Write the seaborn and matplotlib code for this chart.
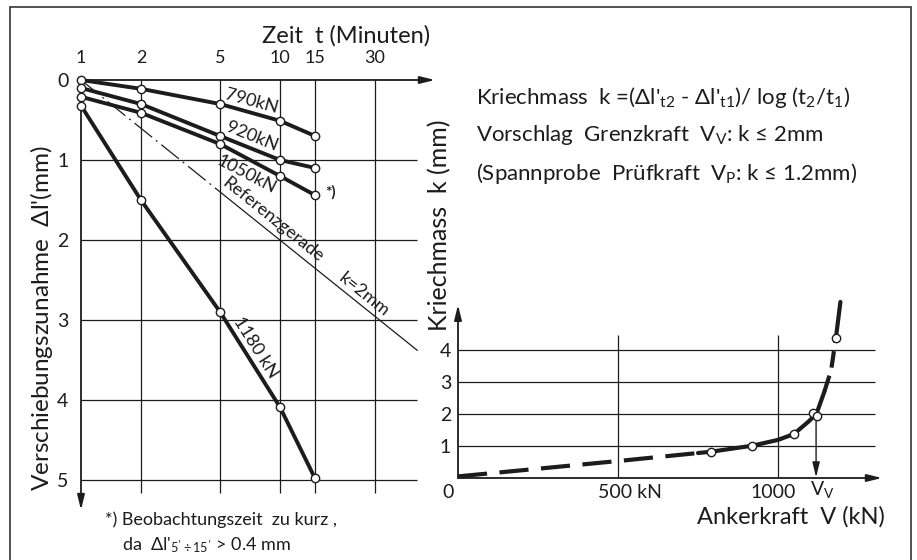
import matplotlib
matplotlib.use("Agg")
import matplotlib.pyplot as plt
import seaborn as sns
from matplotlib.lines import Line2D
from matplotlib.ticker import NullLocator

# ---------------- data ----------------
time_ticks = [1, 2, 5, 10, 15, 30]
time_tick_labels = ["1", "2", "5", "10", "15", "30"]
disp_ticks = [0, 1, 2, 3, 4, 5]
t_obs = [1, 2, 5, 10, 15]
dl_790 = [0.00, 0.11, 0.30, 0.51, 0.70]
dl_920 = [0.10, 0.30, 0.70, 1.00, 1.10]
dl_1050 = [0.21, 0.41, 0.80, 1.20, 1.44]
dl_1180 = [0.32, 1.50, 2.90, 4.09, 4.98]
ref_t = [1, 5, 49]
ref_dl = [0.0, 1.40, 3.38]

force_points = [790, 920, 1050, 1110, 1122, 1181]
k_points = [0.82, 1.01, 1.375, 2.04, 1.95, 4.38]
force_curve = [0, 250, 500, 750, 790, 920, 1000, 1050, 1095, 1120, 1145, 1166, 1181, 1188, 1195]
k_curve = [0.05, 0.29, 0.53, 0.78, 0.82, 1.01, 1.19, 1.375, 1.76, 2.0, 2.7, 3.37, 4.38, 4.94, 5.5]
force_ticks = [100, 200, 300, 400, 500, 600, 700, 800, 900, 1000, 1100, 1200]
k_ticks = [1, 2, 3, 4]
Vv = 1119

INK = "#1c1c1c"

sns.set_style("white")
plt.rcParams["font.family"] = ["Lato", "DejaVu Sans"]
plt.rcParams["mathtext.fontset"] = "custom"
plt.rcParams["mathtext.rm"] = "Lato"
plt.rcParams["mathtext.it"] = "Lato"
plt.rcParams["mathtext.bf"] = "Lato:bold"
plt.rcParams["text.color"] = INK

W, H = 917, 560
fig = plt.figure(figsize=(W / 100, H / 100), dpi=100)
fig.patch.set_facecolor("white")


def fx(p):
    return p / W


def fy(p):
    return 1 - p / H


# frame
for xs, ys in [([10, 10], [7, 560]), ([10, 911], [7, 7]), ([911, 911], [7, 560])]:
    fig.add_artist(Line2D([fx(v) for v in xs], [fy(v) for v in ys], color="#444444", lw=1.3))

# ---------------- left panel ----------------
ax1 = fig.add_axes([fx(81), fy(510), (435 - 81) / W, (510 - 80) / H])
ax1.set_xscale("log")
ax1.set_xlim(1, 60.1)
ax1.set_ylim(5.375, 0)
for s in ax1.spines.values():
    s.set_visible(False)
ax1.xaxis.tick_top()
ax1.set_xticks(time_ticks)
ax1.set_xticklabels(time_tick_labels)
ax1.xaxis.set_minor_locator(NullLocator())
ax1.set_yticks(disp_ticks)
ax1.set_yticklabels([str(v) for v in disp_ticks])
ax1.tick_params(axis="x", length=0, pad=10, labelsize=13, colors=INK)
ax1.tick_params(axis="y", length=0, pad=9, labelsize=14, colors=INK)
ax1.set_facecolor("none")

ax1.vlines(time_ticks[1:], 0, 5.16, color=INK, lw=0.9, zorder=1)
ax1.hlines(disp_ticks[1:], 1, 49, color=INK, lw=0.9, zorder=1)

arrow_kw = dict(arrowstyle="-|>,head_length=0.9,head_width=0.22", color=INK, lw=1.3,
                shrinkA=0, shrinkB=0)
ax1.annotate("", xy=(60.1, 0), xytext=(1, 0), arrowprops=arrow_kw, annotation_clip=False)
ax1.annotate("", xy=(1, 5.375), xytext=(1, 0), arrowprops=arrow_kw, annotation_clip=False)

# reference line k = 2 mm
ax1.plot(ref_t[:2], ref_dl[:2], color=INK, lw=0.9, dashes=(18, 4, 1.5, 4), zorder=2)
ax1.plot(ref_t[1:], ref_dl[1:], color=INK, lw=0.9, zorder=2)

for dl in [dl_790, dl_920, dl_1050, dl_1180]:
    sns.lineplot(x=t_obs, y=dl, ax=ax1, color=INK, lw=2.8, marker="o", markersize=6,
                 markerfacecolor="white", markeredgecolor=INK, markeredgewidth=1.0,
                 clip_on=False, zorder=4)

lab_kw = dict(ha="center", rotation_mode="anchor", color=INK)
ax1.text(7.07, 0.33, "790kN", rotation=-15.3, fontsize=13, va="baseline", **lab_kw)
ax1.text(7.07, 0.76, "920kN", rotation=-22, fontsize=13, va="baseline", **lab_kw)
ax1.text(7.07, 1.09, "1050kN", rotation=-27.6, fontsize=13, va="top", **lab_kw)
ax1.text(8.9, 1.80, "Referenzgerade", rotation=-38.8, fontsize=13, va="baseline", **lab_kw)
ax1.text(25.6, 2.73, "k=2mm", rotation=-38.8, fontsize=13, va="baseline", **lab_kw)
ax1.text(7.20, 3.38, "1180 kN", rotation=-57.7, fontsize=13, va="baseline", **lab_kw)
ax1.text(16.8, 1.41, "*)", fontsize=11, fontweight="bold", ha="left", va="center")

fig.text(fx(346), fy(36), "Zeit  t (Minuten)", fontsize=17, ha="center", va="center")
fig.text(fx(42), fy(318), "Verschiebungszunahme  $\\Delta$l'(mm)", fontsize=17.5,
         rotation=90, ha="center", va="center")
fig.text(fx(105), fy(520), "*) Beobachtungszeit  zu kurz ,", fontsize=13, ha="left", va="center")
fig.text(fx(122), fy(545), "da  $\\Delta$l'$_{5'\\div15'}$ > 0.4 mm", fontsize=13,
         ha="left", va="center")

# ---------------- right panel ----------------
ax2 = fig.add_axes([fx(458), fy(478), (882 - 458) / W, (478 - 300) / H])
ax2.set_xlim(0, 1325)
ax2.set_ylim(0, 5.56)
for s in ax2.spines.values():
    s.set_visible(False)
ax2.set_facecolor("none")
ax2.set_xticks(force_ticks)
ax2.tick_params(axis="x", length=4, width=0.9, direction="out", labelbottom=False, colors=INK)
ax2.set_yticks(k_ticks)
ax2.set_yticklabels([str(v) for v in k_ticks])
ax2.tick_params(axis="y", length=0, pad=5, labelsize=14, colors=INK)

ax2.hlines(k_ticks, -8, 1303, color=INK, lw=0.9, zorder=1)
ax2.vlines([500, 1000], 0, 4.47, color=INK, lw=0.9, zorder=1)
ax2.annotate("", xy=(1325, 0), xytext=(0, 0), arrowprops=arrow_kw, annotation_clip=False)
ax2.annotate("", xy=(0, 5.41), xytext=(0, 0), arrowprops=arrow_kw, annotation_clip=False)

curve_kw = dict(ax=ax2, color=INK, lw=3.0, clip_on=False, zorder=3)
sns.lineplot(x=force_curve[0:4], y=k_curve[0:4], dashes=(7, 3), **curve_kw)
sns.lineplot(x=force_curve[3:11], y=k_curve[3:11], **curve_kw)
sns.lineplot(x=force_curve[10:13], y=k_curve[10:13], dashes=(4, 2), **curve_kw)
sns.lineplot(x=force_curve[12:], y=k_curve[12:], **curve_kw)
sns.scatterplot(x=force_points, y=k_points, ax=ax2, s=36, color="white", edgecolor=INK,
                linewidth=1.0, zorder=5, clip_on=False)

ax2.annotate("", xy=(Vv, 0.02), xytext=(Vv, 1.98),
             arrowprops=dict(arrowstyle="-|>,head_length=0.9,head_width=0.22", color=INK,
                             lw=1.0, shrinkA=0, shrinkB=0))

fig.text(fx(448), fy(492), "0", fontsize=14, ha="center", va="center")
fig.text(fx(598), fy(492), "500 kN", fontsize=14, ha="left", va="center")
fig.text(fx(773), fy(492), "1000", fontsize=14, ha="center", va="center")
fig.text(fx(822), fy(490), "V$_V$", fontsize=14, ha="center", va="center")
fig.text(fx(885), fy(517), "Ankerkraft  V (kN)", fontsize=17, ha="right", va="center")
fig.text(fx(440), fy(225), "Kriechmass  k (mm)", fontsize=18, rotation=90,
         ha="center", va="center")

fig.text(fx(476), fy(104),
         "Kriechmass  k =($\\Delta$l'$_{t2}$ - $\\Delta$l'$_{t1}$)/ log (t$_2$/t$_1$)",
         fontsize=16, ha="left", va="baseline")
fig.text(fx(476), fy(141), "Vorschlag  Grenzkraft  V$_V$: k ≤ 2mm",
         fontsize=16, ha="left", va="baseline")
fig.text(fx(476), fy(180), "(Spannprobe  Prüfkraft  V$_P$: k ≤ 1.2mm)",
         fontsize=16, ha="left", va="baseline")

fig.savefig("out.png", dpi=100)
